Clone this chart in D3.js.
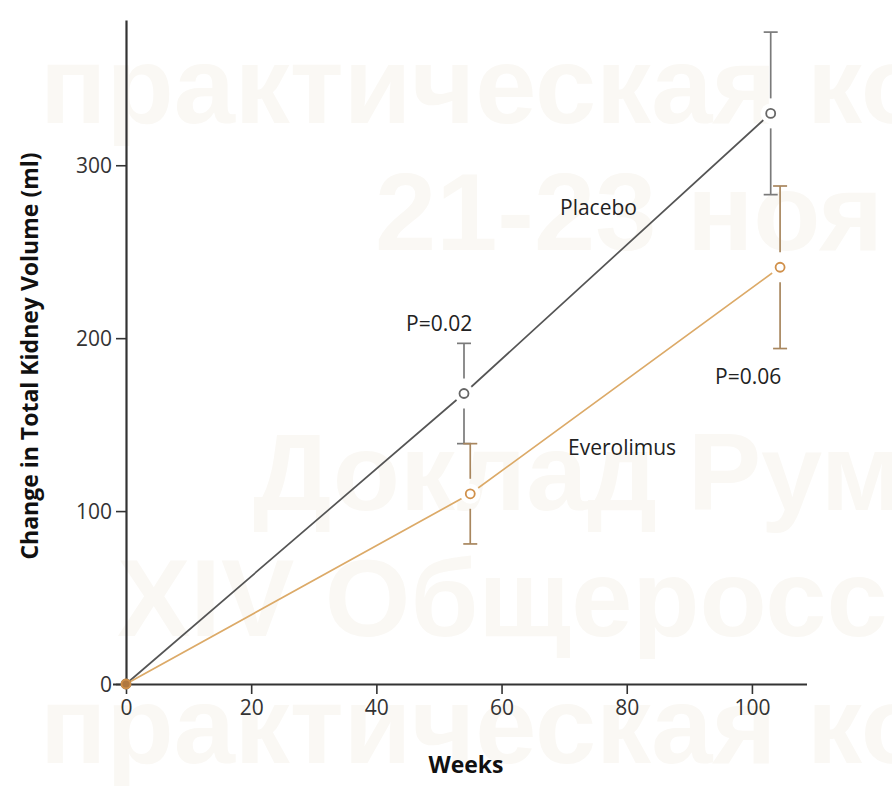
<!DOCTYPE html>
<head>
  <meta charset="utf-8" />
  <title>Kidney volume</title>
  <style>
    body { margin: 0; background: #fff; }
    svg { display: block; }
  </style>
</head>
<body>
  <script src="https://cdn.jsdelivr.net/npm/d3@7"></script>
  <script>
    // values
    var placeboWeeks = [0, 54, 103];
    var placeboMean = [0, 168, 330];
    var placeboErr = [0, 29, 47];
    var everoWeeks = [0, 55, 104.5];
    var everoMean = [0, 110, 241];
    var everoErr = [0, 29, 47];
    var xTicks = [0, 20, 40, 60, 80, 100];
    var yTicks = [0, 100, 200, 300];

    // background watermark lines (cut by the picture edge as in the original)
    var wmText = [
      "практическая ко",
      "21-23 ноя",
      "Доклад Рум",
      "XIV Общеросс",
      "практическая ко",
    ];
    var wmX = [40, 375, 253, 117, 40];
    var wmY = [123, 250, 510, 636, 763];

    var width = 892, height = 808;
    var svg = d3.select("body").append("svg")
      .attr("width", width).attr("height", height);

    svg.append("g").selectAll("text")
      .data(wmText).enter().append("text")
      .attr("x", (d, i) => wmX[i])
      .attr("y", (d, i) => wmY[i])
      .attr("font-family", "Liberation Sans, Arial, sans-serif")
      .attr("font-weight", "bold")
      .attr("font-size", 110)
      .attr("fill", "#faf8f4")
      .text(d => d);

    var x = d3.scaleLinear().domain([0, 108.8]).range([126, 807]);
    var y = d3.scaleLinear().domain([0, 384]).range([684, 20]);

    var font = "Open Sans, Noto Sans, sans-serif";

    // axes
    var xAxis = svg.append("g")
      .attr("transform", "translate(0,684)")
      .call(d3.axisBottom(x).tickValues(xTicks).tickSize(10).tickPadding(6).tickSizeOuter(0));
    var yAxis = svg.append("g")
      .attr("transform", "translate(126,0)")
      .call(d3.axisLeft(y).tickValues(yTicks).tickSize(10).tickPadding(4).tickSizeOuter(0));
    [xAxis, yAxis].forEach(function (a) {
      a.select(".domain").attr("stroke", "#333").attr("stroke-width", 2.2);
      a.selectAll(".tick line").attr("stroke", "#333").attr("stroke-width", 1.6);
      a.selectAll(".tick text")
        .attr("font-family", font).attr("font-size", 21).attr("fill", "#333");
    });
    xAxis.select(".domain").attr("d", "M113,0.5H807");
    yAxis.selectAll(".tick text").attr("dy", "0.36em");

    svg.append("text")
      .attr("x", 466).attr("y", 773)
      .attr("text-anchor", "middle")
      .attr("font-family", font).attr("font-weight", "bold").attr("font-size", 23)
      .attr("fill", "#111")
      .text("Weeks");
    svg.append("text")
      .attr("transform", "translate(38,356) rotate(-90)")
      .attr("text-anchor", "middle")
      .attr("font-family", font).attr("font-weight", "bold").attr("font-size", 23)
      .attr("fill", "#111")
      .text("Change in Total Kidney Volume (ml)");

    var series = [
      { weeks: placeboWeeks, mean: placeboMean, err: placeboErr, line: "#555", bar: "#7a7a7a", mark: "#666" },
      { weeks: everoWeeks, mean: everoMean, err: everoErr, line: "#dcaa68", bar: "#a8865e", mark: "#d0904a" },
    ];

    var line = d3.line().x(d => x(d[0])).y(d => y(d[1]));
    series.forEach(function (s) {
      var pts = s.weeks.map((w, i) => [w, s.mean[i], s.err[i]]);
      svg.append("path")
        .datum(pts)
        .attr("d", line)
        .attr("fill", "none")
        .attr("stroke", s.line)
        .attr("stroke-width", 1.7);
      s.pts = pts;
    });

    series.forEach(function (s) {
      var g = svg.append("g");
      var pts = s.pts.filter(d => d[0] > 0);
      // white halo so the line stops short of the marker
      g.selectAll("circle.halo").data(pts).enter().append("circle")
        .attr("cx", d => x(d[0])).attr("cy", d => y(d[1])).attr("r", 10)
        .attr("fill", "#fff");
      pts.forEach(function (d) {
        var cx = x(d[0]), cy = y(d[1]);
        var top = y(d[1] + d[2]), bot = y(d[1] - d[2]);
        g.append("line").attr("x1", cx).attr("x2", cx).attr("y1", top).attr("y2", cy - 15)
          .attr("stroke", s.bar).attr("stroke-width", 1.7);
        g.append("line").attr("x1", cx).attr("x2", cx).attr("y1", cy + 15).attr("y2", bot)
          .attr("stroke", s.bar).attr("stroke-width", 1.7);
        [top, bot].forEach(function (yy) {
          g.append("line").attr("x1", cx - 7).attr("x2", cx + 7).attr("y1", yy).attr("y2", yy)
            .attr("stroke", s.bar).attr("stroke-width", 1.7);
        });
      });
      g.selectAll("circle.mark").data(s.pts).enter().append("circle")
        .attr("cx", d => x(d[0])).attr("cy", d => y(d[1])).attr("r", 4.5)
        .attr("fill", (d, i) => i === 0 ? "#b07840" : "#fff")
        .attr("stroke", s.mark).attr("stroke-width", 1.8);
    });

    var labels = [
      { t: "Placebo", x: 560, y: 215 },
      { t: "Everolimus", x: 568, y: 455 },
      { t: "P=0.02", x: 406, y: 331 },
      { t: "P=0.06", x: 715, y: 384 },
    ];
    svg.append("g").selectAll("text").data(labels).enter().append("text")
      .attr("x", d => d.x).attr("y", d => d.y)
      .attr("font-family", font).attr("font-size", 21).attr("fill", "#222")
      .text(d => d.t);
  </script>
</body>
